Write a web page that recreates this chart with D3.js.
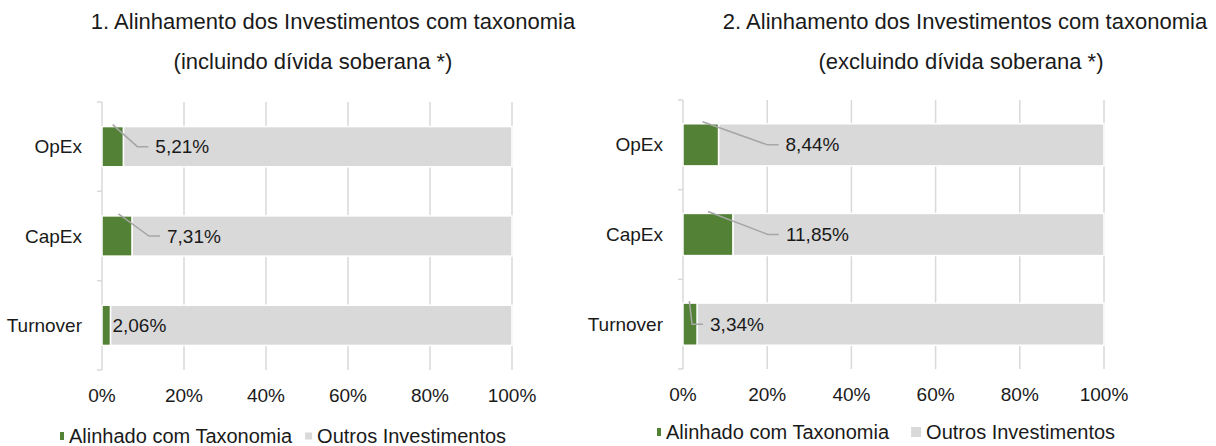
<!DOCTYPE html>
<html>
<head>
<meta charset="utf-8">
<script src="https://cdn.jsdelivr.net/npm/d3@7"></script>
<style>
  body { margin: 0; background: #fff; }
  svg { display: block; font-family: "Liberation Sans", Arial, sans-serif; }
</style>
</head>
<body>
<svg id="chart" width="1216" height="446"></svg>
<script>
// data
var categories = ['OpEx', 'CapEx', 'Turnover'];
var seriesNames = ['Alinhado com Taxonomia', 'Outros Investimentos'];
var alignedIncl = [5.21, 7.31, 2.06];
var othersIncl = [94.79, 92.69, 97.94];
var alignedExcl = [8.44, 11.85, 3.34];
var othersExcl = [91.56, 88.15, 96.66];
var xTicks = [0, 20, 40, 60, 80, 100];
var titles1 = ['1. Alinhamento dos Investimentos com taxonomia', '(incluindo dívida soberana *)'];
var titles2 = ['2. Alinhamento dos Investimentos com taxonomia', '(excluindo dívida soberana *)'];

var GREEN = '#538135', GREY = '#d9d9d9', LINE = '#a6a6a6';
var ptBr = d3.formatLocale({ decimal: ',', thousands: '.', grouping: [3], currency: ['', ''] });
var fmt = ptBr.format('.2f');

var svg = d3.select('#chart');

/**
 * one panel: stacked horizontal bars to 100%
 */
var drawPanel = function (cfg) {
    var g = svg.append('g');
    var x = d3.scaleLinear().domain([0, 100]).range([cfg.x0, cfg.x1]);
    var y = d3.scaleBand().domain(categories).range([cfg.top, cfg.bottom]).paddingInner(cfg.pad).paddingOuter(cfg.pad / 2);
    var yEdge = d3.scalePoint().domain(d3.range(categories.length + 1)).range([cfg.top, cfg.bottom]);

    // titles
    g.selectAll('text.title').data(cfg.titles).enter().append('text')
        .attr('class', 'title')
        .attr('x', function (d, i) { return cfg.titleX[i]; })
        .attr('y', function (d, i) { return cfg.titleY[i]; })
        .attr('text-anchor', 'middle')
        .attr('font-size', 22)
        .attr('fill', '#1a1a1a')
        .text(function (d) { return d; });

    // gridlines
    g.selectAll('line.grid').data(xTicks.slice(1)).enter().append('line')
        .attr('x1', function (d) { return x(d); }).attr('x2', function (d) { return x(d); })
        .attr('y1', cfg.top).attr('y2', cfg.bottom)
        .attr('stroke', GREY).attr('stroke-width', 1.5);

    // category axis with boundary ticks
    g.append('line')
        .attr('x1', x(0)).attr('x2', x(0)).attr('y1', cfg.top).attr('y2', cfg.bottom)
        .attr('stroke', GREY).attr('stroke-width', 1.5);
    g.selectAll('line.ytick').data(yEdge.domain()).enter().append('line')
        .attr('x1', x(0) - 5).attr('x2', x(0))
        .attr('y1', function (d) { return yEdge(d); }).attr('y2', function (d) { return yEdge(d); })
        .attr('stroke', GREY).attr('stroke-width', 1.5);

    g.selectAll('text.cat').data(categories).enter().append('text')
        .attr('x', x(0) - 20)
        .attr('y', function (d) { return y(d) + y.bandwidth() / 2; })
        .attr('dy', '0.35em')
        .attr('text-anchor', 'end')
        .attr('font-size', 19)
        .attr('fill', '#1a1a1a')
        .text(function (d) { return d; });

    // x tick labels
    g.selectAll('text.xt').data(xTicks).enter().append('text')
        .attr('x', function (d) { return x(d); })
        .attr('y', cfg.bottom + 25)
        .attr('dy', '0.35em')
        .attr('text-anchor', 'middle')
        .attr('font-size', 19)
        .attr('fill', '#1a1a1a')
        .text(function (d) { return d + '%'; });

    // bars
    var rows = categories.map(function (c, i) { return { cat: c, a: cfg.aligned[i], o: cfg.others[i], i: i }; });
    g.selectAll('rect.oth').data(rows).enter().append('rect')
        .attr('x', function (d) { return x(d.a); })
        .attr('width', function (d) { return x(d.a + d.o) - x(d.a); })
        .attr('y', function (d) { return y(d.cat); })
        .attr('height', y.bandwidth())
        .attr('fill', GREY).attr('stroke', '#fff').attr('stroke-width', 1.5);
    g.selectAll('rect.al').data(rows).enter().append('rect')
        .attr('x', x(0))
        .attr('width', function (d) { return x(d.a) - x(0); })
        .attr('y', function (d) { return y(d.cat); })
        .attr('height', y.bandwidth())
        .attr('fill', GREEN).attr('stroke', '#fff').attr('stroke-width', 1.5);

    // data labels + leader lines
    rows.forEach(function (d) {
        var cy = y(d.cat) + y.bandwidth() / 2;
        var tx = x(d.a) + cfg.labelDx[d.i];
        if (cfg.leader[d.i]) {
            var sx = x(d.a * cfg.leader[d.i]);
            g.append('polyline')
                .attr('points', [[sx, y(d.cat) - 2], [tx - 18, cy], [tx - 7, cy]].join(' '))
                .attr('fill', 'none').attr('stroke', LINE).attr('stroke-width', 1.5);
        }
        g.append('text')
            .attr('x', tx).attr('y', cy)
            .attr('dy', '0.35em')
            .attr('font-size', 19)
            .attr('fill', '#1a1a1a')
            .text(fmt(d.a) + '%');
    });

    // legend
    var lg = g.append('g').attr('transform', 'translate(' + cfg.legendX + ',' + cfg.legendY + ')');
    var items = [
        { name: seriesNames[0], color: GREEN, w: 4, h: 8 },
        { name: seriesNames[1], color: GREY, w: cfg.greyBox, h: cfg.greyBox }
    ];
    var lx = 0;
    items.forEach(function (it) {
        lg.append('rect').attr('x', lx).attr('y', -it.h / 2).attr('width', it.w).attr('height', it.h).attr('fill', it.color);
        var t = lg.append('text').attr('x', lx + it.w + 5).attr('dy', '0.35em')
            .attr('font-size', 20).attr('fill', '#1a1a1a').text(it.name);
        lx += it.w + 5 + t.node().getComputedTextLength() + cfg.legendGap;
    });
};

drawPanel({
    x0: 102, x1: 512, top: 102, bottom: 370, pad: 0.55,
    aligned: alignedIncl, others: othersIncl,
    titles: titles1, titleX: [333, 313], titleY: [29, 69],
    labelDx: [32, 35, 2], leader: [0.5, 0.55, 0],
    legendX: 60, legendY: 436, legendGap: 13, greyBox: 7
});
drawPanel({
    x0: 683, x1: 1104, top: 100, bottom: 369, pad: 0.53,
    aligned: alignedExcl, others: othersExcl,
    titles: titles2, titleX: [965, 961], titleY: [29, 69],
    labelDx: [67, 53, 13], leader: [0.55, 0.5, 0.45],
    legendX: 657, legendY: 432, legendGap: 22, greyBox: 10
});
</script>
</body>
</html>
